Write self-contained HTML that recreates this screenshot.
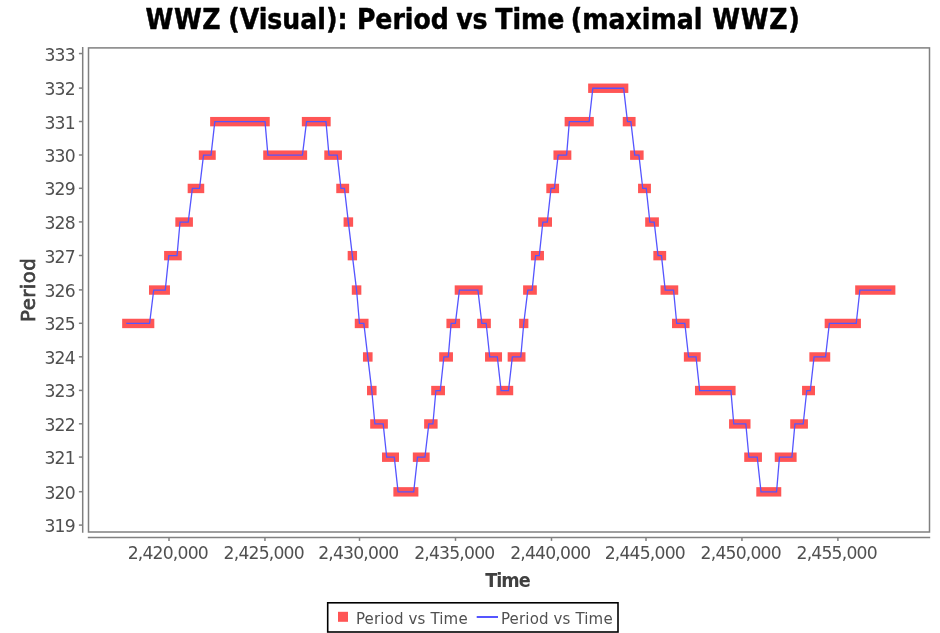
<!DOCTYPE html>
<html><head><meta charset="utf-8"><title>WWZ (Visual): Period vs Time (maximal WWZ)</title><style>html,body{margin:0;padding:0;background:#fff;overflow:hidden}svg{display:block}</style></head><body>
<svg width="940" height="633" viewBox="0 0 940 633">
<rect width="940" height="633" fill="#fff"/>
<text y="28.7" font-family="'DejaVu Sans Condensed','DejaVu Sans',sans-serif" font-stretch="condensed" font-weight="bold" font-size="28" fill="#000" stroke="#000" stroke-width="0.45" stroke-linejoin="round"><tspan x="145.5" letter-spacing="0.6">WWZ</tspan> <tspan x="228.2">(Visual):</tspan> <tspan x="356.9">Period</tspan> <tspan x="456.2">vs</tspan> <tspan x="495.3">Time</tspan> <tspan x="570.8">(maximal</tspan> <tspan x="712.3" letter-spacing="0.7">WWZ)</tspan></text>
<rect x="88.5" y="47.9" width="841.0" height="484.1" fill="none" stroke="#808080" stroke-width="1.5"/>
<line x1="82.7" y1="47.1" x2="82.7" y2="532.8" stroke="#808080" stroke-width="1.5"/>
<line x1="87.8" y1="537.6" x2="930.2" y2="537.6" stroke="#808080" stroke-width="1.5"/>
<line x1="78.9" y1="525.1" x2="82.7" y2="525.1" stroke="#808080" stroke-width="1.5"/>
<line x1="78.9" y1="491.7" x2="82.7" y2="491.7" stroke="#808080" stroke-width="1.5"/>
<line x1="78.9" y1="457.05" x2="82.7" y2="457.05" stroke="#808080" stroke-width="1.5"/>
<line x1="78.9" y1="423.8" x2="82.7" y2="423.8" stroke="#808080" stroke-width="1.5"/>
<line x1="78.9" y1="390.4" x2="82.7" y2="390.4" stroke="#808080" stroke-width="1.5"/>
<line x1="78.9" y1="356.8" x2="82.7" y2="356.8" stroke="#808080" stroke-width="1.5"/>
<line x1="78.9" y1="323.3" x2="82.7" y2="323.3" stroke="#808080" stroke-width="1.5"/>
<line x1="78.9" y1="289.9" x2="82.7" y2="289.9" stroke="#808080" stroke-width="1.5"/>
<line x1="78.9" y1="255.5" x2="82.7" y2="255.5" stroke="#808080" stroke-width="1.5"/>
<line x1="78.9" y1="221.9" x2="82.7" y2="221.9" stroke="#808080" stroke-width="1.5"/>
<line x1="78.9" y1="188.3" x2="82.7" y2="188.3" stroke="#808080" stroke-width="1.5"/>
<line x1="78.9" y1="155" x2="82.7" y2="155" stroke="#808080" stroke-width="1.5"/>
<line x1="78.9" y1="121.5" x2="82.7" y2="121.5" stroke="#808080" stroke-width="1.5"/>
<line x1="78.9" y1="88.1" x2="82.7" y2="88.1" stroke="#808080" stroke-width="1.5"/>
<line x1="78.9" y1="53.55" x2="82.7" y2="53.55" stroke="#808080" stroke-width="1.5"/>
<g font-family="'DejaVu Sans',sans-serif" font-size="17.2" letter-spacing="-0.8" fill="#505050" text-anchor="end"><text x="74.9" y="532.1">319</text><text x="74.9" y="498.7">320</text><text x="74.9" y="464.05">321</text><text x="74.9" y="430.8">322</text><text x="74.9" y="397.4">323</text><text x="74.9" y="363.8">324</text><text x="74.9" y="330.3">325</text><text x="74.9" y="296.9">326</text><text x="74.9" y="262.5">327</text><text x="74.9" y="228.9">328</text><text x="74.9" y="195.3">329</text><text x="74.9" y="162">330</text><text x="74.9" y="128.5">331</text><text x="74.9" y="95.1">332</text><text x="74.9" y="60.55">333</text></g>
<line x1="169" y1="537.6" x2="169" y2="540.9" stroke="#808080" stroke-width="1.5"/>
<line x1="264.95" y1="537.6" x2="264.95" y2="540.9" stroke="#808080" stroke-width="1.5"/>
<line x1="359.5" y1="537.6" x2="359.5" y2="540.9" stroke="#808080" stroke-width="1.5"/>
<line x1="455.5" y1="537.6" x2="455.5" y2="540.9" stroke="#808080" stroke-width="1.5"/>
<line x1="551.5" y1="537.6" x2="551.5" y2="540.9" stroke="#808080" stroke-width="1.5"/>
<line x1="646" y1="537.6" x2="646" y2="540.9" stroke="#808080" stroke-width="1.5"/>
<line x1="741.95" y1="537.6" x2="741.95" y2="540.9" stroke="#808080" stroke-width="1.5"/>
<line x1="837.9" y1="537.6" x2="837.9" y2="540.9" stroke="#808080" stroke-width="1.5"/>
<g font-family="'DejaVu Sans',sans-serif" font-size="17.2" letter-spacing="-0.8" fill="#505050" text-anchor="middle"><text x="167.8" y="559.4">2,420,000</text><text x="263.75" y="559.4">2,425,000</text><text x="358.3" y="559.4">2,430,000</text><text x="454.3" y="559.4">2,435,000</text><text x="550.3" y="559.4">2,440,000</text><text x="644.8" y="559.4">2,445,000</text><text x="740.75" y="559.4">2,450,000</text><text x="836.7" y="559.4">2,455,000</text></g>
<text x="507.5" y="587.1" text-anchor="middle" font-family="'DejaVu Sans Condensed','DejaVu Sans',sans-serif" font-stretch="condensed" font-weight="bold" font-size="19.6" letter-spacing="-1" fill="#404040">Time</text>
<text transform="translate(34.7 289.9) rotate(-90)" x="0" y="0" text-anchor="middle" font-family="'DejaVu Sans',sans-serif" font-size="19.8" letter-spacing="0.4" fill="#404040" stroke="#404040" stroke-width="0.7">Period</text>
<g fill="#ff5555"><rect x="122.16" y="318.75" width="32.16" height="9.4"/><rect x="148.99" y="285.35" width="20.97" height="9.4"/><rect x="164.1" y="250.95" width="17.65" height="9.4"/><rect x="175.34" y="217.35" width="17.59" height="9.4"/><rect x="187.66" y="183.75" width="16.57" height="9.4"/><rect x="198.82" y="150.45" width="16.92" height="9.4"/><rect x="210.13" y="116.95" width="59.59" height="9.4"/><rect x="263.22" y="150.45" width="43.92" height="9.4"/><rect x="301.84" y="116.95" width="28.83" height="9.4"/><rect x="324.29" y="150.45" width="17.63" height="9.4"/><rect x="336.26" y="183.75" width="12.88" height="9.4"/><rect x="343.58" y="217.35" width="9.55" height="9.4"/><rect x="347.68" y="250.95" width="9.37" height="9.4"/><rect x="351.79" y="285.35" width="9.55" height="9.4"/><rect x="354.76" y="318.75" width="13.78" height="9.4"/><rect x="362.97" y="352.25" width="9.61" height="9.4"/><rect x="367.02" y="385.85" width="9.55" height="9.4"/><rect x="370.17" y="419.25" width="17.71" height="9.4"/><rect x="382.01" y="452.5" width="16.99" height="9.4"/><rect x="393.37" y="487.15" width="25.02" height="9.4"/><rect x="412.83" y="452.5" width="16.81" height="9.4"/><rect x="424.13" y="419.25" width="13.48" height="9.4"/><rect x="431.2" y="385.85" width="13.78" height="9.4"/><rect x="439.18" y="352.25" width="13.78" height="9.4"/><rect x="446.43" y="318.75" width="13.66" height="9.4"/><rect x="454.7" y="285.35" width="27.93" height="9.4"/><rect x="477.13" y="318.75" width="13.72" height="9.4"/><rect x="485.04" y="352.25" width="16.99" height="9.4"/><rect x="496.4" y="385.85" width="16.81" height="9.4"/><rect x="507.65" y="352.25" width="17.83" height="9.4"/><rect x="519.13" y="318.75" width="9.25" height="9.4"/><rect x="523.11" y="285.35" width="13.72" height="9.4"/><rect x="530.91" y="250.95" width="13.06" height="9.4"/><rect x="538.16" y="217.35" width="13.84" height="9.4"/><rect x="546.32" y="183.75" width="12.76" height="9.4"/><rect x="553.45" y="150.45" width="17.89" height="9.4"/><rect x="564.63" y="116.95" width="29.19" height="9.4"/><rect x="588.14" y="83.55" width="40.19" height="9.4"/><rect x="622.76" y="116.95" width="12.82" height="9.4"/><rect x="630.08" y="150.45" width="13.54" height="9.4"/><rect x="638.05" y="183.75" width="12.88" height="9.4"/><rect x="645.18" y="217.35" width="13.72" height="9.4"/><rect x="653.34" y="250.95" width="12.82" height="9.4"/><rect x="660.53" y="285.35" width="17.71" height="9.4"/><rect x="672.01" y="318.75" width="17.53" height="9.4"/><rect x="683.86" y="352.25" width="16.87" height="9.4"/><rect x="694.98" y="385.85" width="40.61" height="9.4"/><rect x="729.06" y="419.25" width="21.45" height="9.4"/><rect x="744.23" y="452.5" width="17.71" height="9.4"/><rect x="756.31" y="487.15" width="24.96" height="9.4"/><rect x="774.75" y="452.5" width="21.87" height="9.4"/><rect x="790.22" y="419.25" width="17.71" height="9.4"/><rect x="802.06" y="385.85" width="12.94" height="9.4"/><rect x="809.37" y="352.25" width="20.85" height="9.4"/><rect x="824.66" y="318.75" width="36.26" height="9.4"/><rect x="855.18" y="285.35" width="40.19" height="9.4"/></g>
<path d="M126.86 323.45 L130.65 323.45 L134.44 323.45 L138.24 323.45 L142.03 323.45 L145.82 323.45 L149.61 323.45 L153.69 290.05 L157.55 290.05 L161.4 290.05 L165.26 290.05 L168.8 255.65 L172.92 255.65 L177.04 255.65 L180.04 222.05 L184.13 222.05 L188.23 222.05 L192.36 188.45 L195.94 188.45 L199.53 188.45 L203.52 155.15 L207.28 155.15 L211.04 155.15 L214.83 121.65 L218.69 121.65 L222.55 121.65 L226.41 121.65 L230.27 121.65 L234.13 121.65 L237.99 121.65 L241.85 121.65 L245.71 121.65 L249.57 121.65 L253.43 121.65 L257.29 121.65 L261.15 121.65 L265.01 121.65 L267.92 155.15 L271.75 155.15 L275.59 155.15 L279.42 155.15 L283.26 155.15 L287.1 155.15 L290.93 155.15 L294.77 155.15 L298.61 155.15 L302.44 155.15 L306.54 121.65 L310.43 121.65 L314.31 121.65 L318.2 121.65 L322.09 121.65 L325.97 121.65 L328.99 155.15 L333.1 155.15 L337.22 155.15 L340.96 188.45 L344.44 188.45 L348.35 222.05 L352.37 255.65 L356.57 290.05 L359.46 323.45 L363.84 323.45 L367.78 356.95 L371.79 390.55 L374.87 423.95 L379.02 423.95 L383.17 423.95 L386.71 457.2 L390.5 457.2 L394.29 457.2 L398.07 491.85 L401.97 491.85 L405.88 491.85 L409.78 491.85 L413.69 491.85 L417.53 457.2 L421.23 457.2 L424.93 457.2 L428.83 423.95 L432.91 423.95 L435.9 390.55 L440.28 390.55 L443.88 356.95 L448.25 356.95 L451.13 323.45 L455.39 323.45 L459.4 290.05 L463.11 290.05 L466.82 290.05 L470.52 290.05 L474.23 290.05 L477.93 290.05 L481.83 323.45 L486.15 323.45 L489.74 356.95 L493.54 356.95 L497.33 356.95 L501.1 390.55 L504.81 390.55 L508.51 390.55 L512.35 356.95 L516.56 356.95 L520.77 356.95 L523.75 323.45 L527.81 290.05 L532.13 290.05 L535.61 255.65 L539.27 255.65 L542.86 222.05 L547.3 222.05 L551.02 188.45 L554.38 188.45 L558.15 155.15 L562.39 155.15 L566.64 155.15 L569.33 121.65 L573.29 121.65 L577.25 121.65 L581.21 121.65 L585.16 121.65 L589.12 121.65 L592.84 88.25 L596.69 88.25 L600.53 88.25 L604.38 88.25 L608.23 88.25 L612.08 88.25 L615.93 88.25 L619.78 88.25 L623.63 88.25 L627.46 121.65 L630.88 121.65 L634.78 155.15 L638.91 155.15 L642.75 188.45 L646.23 188.45 L649.88 222.05 L654.2 222.05 L658.04 255.65 L661.46 255.65 L665.23 290.05 L669.39 290.05 L673.54 290.05 L676.71 323.45 L680.78 323.45 L684.84 323.45 L688.56 356.95 L692.29 356.95 L696.02 356.95 L699.68 390.55 L703.58 390.55 L707.48 390.55 L711.38 390.55 L715.28 390.55 L719.18 390.55 L723.09 390.55 L726.99 390.55 L730.89 390.55 L733.76 423.95 L737.78 423.95 L741.8 423.95 L745.82 423.95 L748.93 457.2 L753.08 457.2 L757.24 457.2 L761.01 491.85 L764.9 491.85 L768.79 491.85 L772.68 491.85 L776.57 491.85 L779.45 457.2 L783.61 457.2 L787.76 457.2 L791.92 457.2 L794.92 423.95 L799.07 423.95 L803.22 423.95 L806.76 390.55 L810.3 390.55 L814.07 356.95 L817.89 356.95 L821.71 356.95 L825.53 356.95 L829.36 323.45 L833.2 323.45 L837.04 323.45 L840.88 323.45 L844.71 323.45 L848.55 323.45 L852.39 323.45 L856.23 323.45 L859.88 290.05 L863.73 290.05 L867.58 290.05 L871.43 290.05 L875.28 290.05 L879.12 290.05 L882.97 290.05 L886.82 290.05 L890.67 290.05" fill="none" stroke="#5555ff" stroke-width="1.3" stroke-linejoin="miter" stroke-linecap="square"/>
<rect x="327.7" y="602.8" width="290.3" height="29.2" fill="#fff" stroke="#000" stroke-width="1.6"/>
<rect x="338" y="611.8" width="10" height="10" fill="#ff5555"/>
<line x1="476.7" y1="617" x2="498" y2="617" stroke="#5555ff" stroke-width="2"/>
<g font-family="'DejaVu Sans Condensed','DejaVu Sans',sans-serif" font-stretch="condensed" font-size="16.7" letter-spacing="0.15" fill="#505050"><text x="356.0" y="624.1">Period vs Time</text><text x="501.0" y="624.1">Period vs Time</text></g>
</svg>
</body></html>
